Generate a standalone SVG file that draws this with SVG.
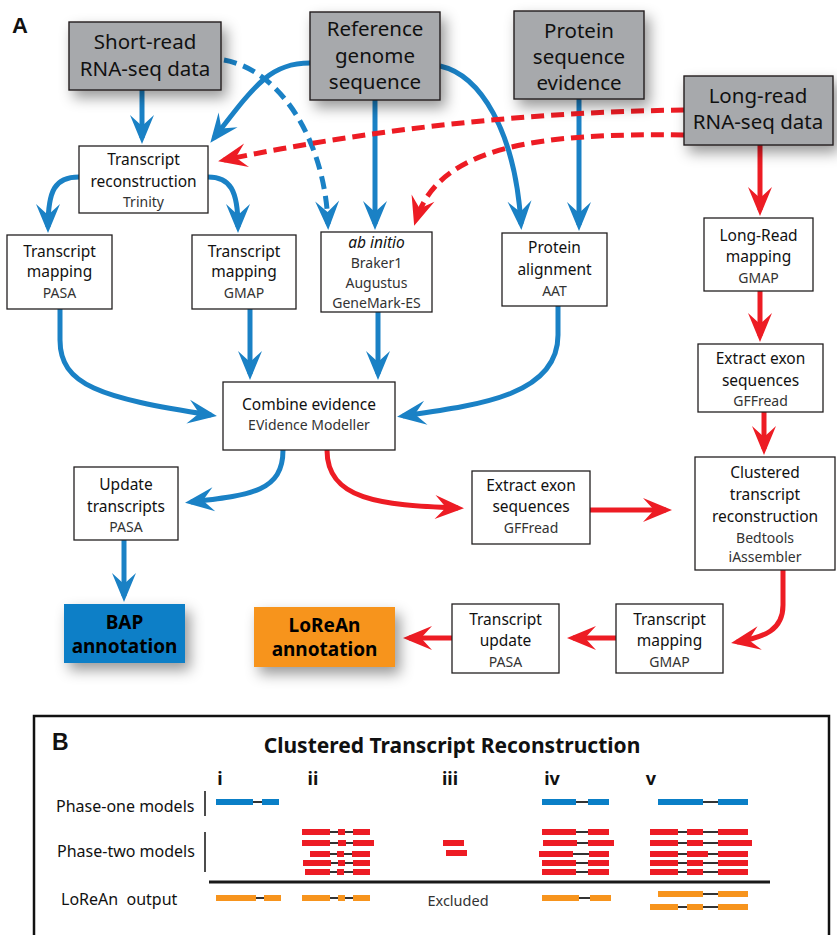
<svg xmlns="http://www.w3.org/2000/svg" width="837" height="935" viewBox="0 0 837 935">
<style>
text{font-family:"Noto Sans","Open Sans",sans-serif;fill:#111}
.g rect{fill:#a7a9ac;stroke:#231f20;stroke-width:1.4}
.gt{font-size:20.5px;text-anchor:middle}
.w rect{fill:#fff;stroke:#231f20;stroke-width:1.3}
.wt{font-size:15.5px;text-anchor:middle}
.st{font-size:14px;text-anchor:middle;fill:#333}
.an{font-size:19px;font-weight:bold;text-anchor:middle;fill:#000}
.bl{fill:none;stroke:#1a81c5;stroke-width:5;marker-end:url(#ab)}
.rd{fill:none;stroke:#ed1c24;stroke-width:5;marker-end:url(#ar)}
.dash{stroke-dasharray:13 7}
.eb{fill:#0a7fc7}.er{fill:#ed1c24}.eo{fill:#f7941d}
.intr{stroke:#333;stroke-width:2}
.lbl{font-size:16px}
.col{font-size:18px;font-weight:bold;text-anchor:middle}
</style>
<defs>
<filter id="sh" x="-30%" y="-30%" width="170%" height="180%">
<feDropShadow dx="5" dy="7" stdDeviation="7" flood-color="#000" flood-opacity="0.4"/>
</filter>
<marker id="ab" markerUnits="userSpaceOnUse" viewBox="-30 -15 40 30" refX="0" refY="0" markerWidth="40" markerHeight="30" orient="auto" overflow="visible">
<path d="M6,0 L-23,-12 L-12,0 L-23,12 Z" fill="#1a81c5"/>
</marker>
<marker id="ar" markerUnits="userSpaceOnUse" viewBox="-30 -15 40 30" refX="0" refY="0" markerWidth="40" markerHeight="30" orient="auto" overflow="visible">
<path d="M6,0 L-23,-12 L-12,0 L-23,12 Z" fill="#ed1c24"/>
</marker>
</defs>
<rect width="837" height="935" fill="#fff"/>
<text x="12" y="33" style="font-family:'Liberation Sans',sans-serif;font-size:22px;font-weight:bold">A</text>

<g id="connectors">
<path class="bl" d="M142,90 V138"/>
<path class="bl" d="M310,63 C270,63 255,85 214,138"/>
<path class="bl dash" d="M224,60 C280,70 325,140 328,224"/>
<path class="bl" d="M375,100 V224"/>
<path class="bl" d="M440,66 C480,75 515,130 521,224"/>
<path class="bl" d="M579,99 V225"/>
<path class="bl" d="M79,177 C55,177 48,190 48,227"/>
<path class="bl" d="M208,177 C230,177 238,190 238,227"/>
<path class="bl" d="M60,309 L60,340 C60,385 100,398 211,415"/>
<path class="bl" d="M250,309 V374"/>
<path class="bl" d="M378,312 V374"/>
<path class="bl" d="M558,306 L558,335 C558,395 480,405 403,416"/>
<path class="bl" d="M283,450 C283,492 250,495 191,502"/>
<path class="bl" d="M124,540 V596"/>
<path class="rd dash" d="M684,110 Q450,113 224,160"/>
<path class="rd dash" d="M684,135 C540,133 440,145 416,220"/>
<path class="rd" d="M760,145 V210"/>
<path class="rd" d="M760,291 V336"/>
<path class="rd" d="M764,412 V449"/>
<path class="rd" d="M327,450 C327,500 380,505 458,508"/>
<path class="rd" d="M590,510 H666"/>
<path class="rd" d="M783,570 L783,605 C783,630 765,637 737,642"/>
<path class="rd" d="M616,638 H573"/>
<path class="rd" d="M452,638 H409"/>
</g>

<g id="short-read" class="g"><rect x="69" y="22" width="152" height="68" filter="url(#sh)"/><text class="gt" x="145" y="49">Short-read</text><text class="gt" x="145" y="76">RNA-seq data</text></g>
<g id="reference" class="g"><rect x="310" y="12" width="130" height="88" filter="url(#sh)"/><text class="gt" x="375" y="36">Reference</text><text class="gt" x="375" y="63">genome</text><text class="gt" x="375" y="89">sequence</text></g>
<g id="protein-evidence" class="g"><rect x="514" y="11" width="130" height="88" filter="url(#sh)"/><text class="gt" x="579" y="38">Protein</text><text class="gt" x="579" y="64">sequence</text><text class="gt" x="579" y="90">evidence</text></g>
<g id="long-read" class="g"><rect x="684" y="76" width="149" height="69" filter="url(#sh)"/><text class="gt" x="758" y="103">Long-read</text><text class="gt" x="758" y="129">RNA-seq data</text></g>

<g id="transcript-reconstruction" class="w"><rect x="79" y="146" width="129" height="67"/><text class="wt" x="143.5" y="165">Transcript</text><text class="wt" x="143.5" y="187">reconstruction</text><text class="st" x="143.5" y="207">Trinity</text></g>
<g id="tm-pasa" class="w"><rect x="7" y="235" width="105" height="74"/><text class="wt" x="59.5" y="257">Transcript</text><text class="wt" x="59.5" y="277">mapping</text><text class="st" x="59.5" y="298">PASA</text></g>
<g id="tm-gmap" class="w"><rect x="192" y="235" width="104" height="74"/><text class="wt" x="244" y="257">Transcript</text><text class="wt" x="244" y="277">mapping</text><text class="st" x="244" y="298">GMAP</text></g>
<g id="ab-initio" class="w"><rect x="321" y="232" width="111" height="80"/><text class="wt" x="376.5" y="248" font-style="italic">ab initio</text><text class="st" x="376.5" y="268">Braker1</text><text class="st" x="376.5" y="288">Augustus</text><text class="st" x="376.5" y="307.5">GeneMark-ES</text></g>
<g id="protein-alignment" class="w"><rect x="502" y="233" width="105" height="73"/><text class="wt" x="554.5" y="253">Protein</text><text class="wt" x="554.5" y="275">alignment</text><text class="st" x="554.5" y="296">AAT</text></g>
<g id="long-read-mapping" class="w"><rect x="704" y="218" width="109" height="73"/><text class="wt" x="758.5" y="241">Long-Read</text><text class="wt" x="758.5" y="262">mapping</text><text class="st" x="758.5" y="283">GMAP</text></g>
<g id="extract-exon-right" class="w"><rect x="698" y="344" width="125" height="68"/><text class="wt" x="760.5" y="364">Extract exon</text><text class="wt" x="760.5" y="386">sequences</text><text class="st" x="760.5" y="406">GFFread</text></g>
<g id="combine-evidence" class="w"><rect x="223" y="382" width="172" height="68"/><text class="wt" x="309" y="410">Combine evidence</text><text class="st" x="309" y="430">EVidence Modeller</text></g>
<g id="update-transcripts" class="w"><rect x="74" y="467" width="104" height="73"/><text class="wt" x="126" y="490">Update</text><text class="wt" x="126" y="512">transcripts</text><text class="st" x="126" y="532">PASA</text></g>
<g id="extract-exon-mid" class="w"><rect x="472" y="471" width="118" height="73"/><text class="wt" x="531" y="491">Extract exon</text><text class="wt" x="531" y="512">sequences</text><text class="st" x="531" y="533">GFFread</text></g>
<g id="clustered" class="w"><rect x="695" y="457" width="140" height="113"/><text class="wt" x="765" y="478">Clustered</text><text class="wt" x="765" y="500">transcript</text><text class="wt" x="765" y="522">reconstruction</text><text class="st" x="765" y="543">Bedtools</text><text class="st" x="765" y="562">iAssembler</text></g>
<g id="transcript-update" class="w"><rect x="452" y="604" width="107" height="69"/><text class="wt" x="505.5" y="625">Transcript</text><text class="wt" x="505.5" y="646">update</text><text class="st" x="505.5" y="667">PASA</text></g>
<g id="tm-gmap-bottom" class="w"><rect x="616" y="604" width="107" height="69"/><text class="wt" x="669.5" y="625">Transcript</text><text class="wt" x="669.5" y="646">mapping</text><text class="st" x="669.5" y="667">GMAP</text></g>
<g id="bap"><rect x="64" y="604" width="121" height="59" fill="#0a7fc7" filter="url(#sh)"/><text class="an" x="124.5" y="629">BAP</text><text class="an" x="124.5" y="653">annotation</text></g>
<g id="lorean"><rect x="254" y="607" width="141" height="60" fill="#f7941d" filter="url(#sh)"/><text class="an" x="324.5" y="632">LoReAn</text><text class="an" x="324.5" y="656">annotation</text></g>

<g id="panel-b">
<rect x="34" y="716" width="795" height="240" fill="none" stroke="#111" stroke-width="2.5"/>
<text x="52" y="750" style="font-family:'Liberation Sans',sans-serif;font-size:23px;font-weight:bold">B</text>
<text x="452" y="753" style="font-size:21px;font-weight:bold;text-anchor:middle">Clustered Transcript Reconstruction</text>
<text class="col" x="220" y="785">i</text><text class="col" x="313" y="785">ii</text><text class="col" x="450" y="785">iii</text><text class="col" x="552" y="785">iv</text><text class="col" x="651" y="785">v</text>
<text class="lbl" x="56" y="812">Phase-one models</text>
<text class="lbl" x="57" y="857">Phase-two models</text>
<text class="lbl" x="61" y="905" xml:space="preserve">LoReAn  output</text>
<text x="458" y="906" style="font-size:14.5px;text-anchor:middle;fill:#333">Excluded</text>
<line x1="205" y1="791" x2="205" y2="816" stroke="#111" stroke-width="1.5"/>
<line x1="205" y1="832" x2="205" y2="872" stroke="#111" stroke-width="1.5"/>
<line x1="209" y1="882" x2="770" y2="882" stroke="#1a1a1a" stroke-width="3"/>
<g id="introns">
<line class="intr" x1="253" y1="802" x2="262" y2="802"/>
<line class="intr" x1="576" y1="802" x2="588" y2="802"/>
<line class="intr" x1="703" y1="802" x2="718" y2="802"/>
<line class="intr" x1="330" y1="832" x2="353" y2="832"/>
<line class="intr" x1="330" y1="843" x2="353" y2="843"/>
<line class="intr" x1="330" y1="854" x2="352" y2="854"/>
<line class="intr" x1="331" y1="863" x2="353" y2="863"/>
<line class="intr" x1="330" y1="872" x2="353" y2="872"/>
<line class="intr" x1="576" y1="832" x2="588" y2="832"/>
<line class="intr" x1="577" y1="843" x2="588" y2="843"/>
<line class="intr" x1="573" y1="854" x2="589" y2="854"/>
<line class="intr" x1="576" y1="863" x2="588" y2="863"/>
<line class="intr" x1="576" y1="872" x2="588" y2="872"/>
<line class="intr" x1="678" y1="832" x2="718" y2="832"/>
<line class="intr" x1="678" y1="843" x2="718" y2="843"/>
<line class="intr" x1="678" y1="854" x2="718" y2="854"/>
<line class="intr" x1="678" y1="863" x2="718" y2="863"/>
<line class="intr" x1="678" y1="872" x2="718" y2="872"/>
<line class="intr" x1="256" y1="898" x2="264" y2="898"/>
<line class="intr" x1="330" y1="898" x2="353" y2="898"/>
<line class="intr" x1="579" y1="898" x2="590" y2="898"/>
<line class="intr" x1="703" y1="894" x2="718" y2="894"/>
<line class="intr" x1="678" y1="907" x2="718" y2="907"/>
</g>
<g id="phase-one">
<rect class="eb" x="216" y="799" width="37" height="6"/><rect class="eb" x="262" y="799" width="17" height="6"/>
<rect class="eb" x="542" y="799" width="34" height="6"/><rect class="eb" x="588" y="799" width="21" height="6"/>
<rect class="eb" x="658" y="799" width="45" height="6"/><rect class="eb" x="718" y="799" width="30" height="6"/>
</g>
<g id="phase-two">
<rect class="er" x="302" y="829" width="28" height="6"/><rect class="er" x="338" y="829" width="7" height="6"/><rect class="er" x="353" y="829" width="17" height="6"/>
<rect class="er" x="302" y="840" width="28" height="6"/><rect class="er" x="338" y="840" width="8" height="6"/><rect class="er" x="353" y="840" width="21" height="6"/>
<rect class="er" x="310" y="851" width="20" height="6"/><rect class="er" x="337" y="851" width="7" height="6"/><rect class="er" x="352" y="851" width="18" height="6"/>
<rect class="er" x="303" y="860" width="28" height="6"/><rect class="er" x="338" y="860" width="7" height="6"/><rect class="er" x="353" y="860" width="17" height="6"/>
<rect class="er" x="305" y="869" width="25" height="6"/><rect class="er" x="337" y="869" width="7" height="6"/><rect class="er" x="353" y="869" width="17" height="6"/>
<rect class="er" x="443" y="840" width="21" height="6"/><rect class="er" x="446" y="850" width="21" height="6"/>
<rect class="er" x="542" y="829" width="34" height="6"/><rect class="er" x="588" y="829" width="21" height="6"/>
<rect class="er" x="543" y="840" width="34" height="6"/><rect class="er" x="588" y="840" width="26" height="6"/>
<rect class="er" x="539" y="851" width="34" height="6"/><rect class="er" x="589" y="851" width="20" height="6"/>
<rect class="er" x="542" y="860" width="34" height="6"/><rect class="er" x="588" y="860" width="21" height="6"/>
<rect class="er" x="542" y="869" width="34" height="6"/><rect class="er" x="588" y="869" width="21" height="6"/>
<rect class="er" x="650" y="829" width="28" height="6"/><rect class="er" x="687" y="829" width="16" height="6"/><rect class="er" x="718" y="829" width="30" height="6"/>
<rect class="er" x="650" y="840" width="28" height="6"/><rect class="er" x="687" y="840" width="16" height="6"/><rect class="er" x="718" y="840" width="34" height="6"/>
<rect class="er" x="650" y="851" width="28" height="6"/><rect class="er" x="687" y="851" width="21" height="6"/><rect class="er" x="718" y="851" width="30" height="6"/>
<rect class="er" x="650" y="860" width="28" height="6"/><rect class="er" x="687" y="860" width="16" height="6"/><rect class="er" x="718" y="860" width="30" height="6"/>
<rect class="er" x="650" y="869" width="28" height="6"/><rect class="er" x="687" y="869" width="16" height="6"/><rect class="er" x="718" y="869" width="30" height="6"/>
</g>
<g id="output">
<rect class="eo" x="216" y="895" width="40" height="6"/><rect class="eo" x="264" y="895" width="17" height="6"/>
<rect class="eo" x="302" y="895" width="28" height="6"/><rect class="eo" x="338" y="895" width="7" height="6"/><rect class="eo" x="353" y="895" width="17" height="6"/>
<rect class="eo" x="542" y="895" width="37" height="6"/><rect class="eo" x="590" y="895" width="21" height="6"/>
<rect class="eo" x="658" y="891" width="45" height="6"/><rect class="eo" x="718" y="891" width="30" height="6"/>
<rect class="eo" x="650" y="904" width="28" height="6"/><rect class="eo" x="687" y="904" width="16" height="6"/><rect class="eo" x="718" y="904" width="30" height="6"/>
</g>
</g>
</svg>
